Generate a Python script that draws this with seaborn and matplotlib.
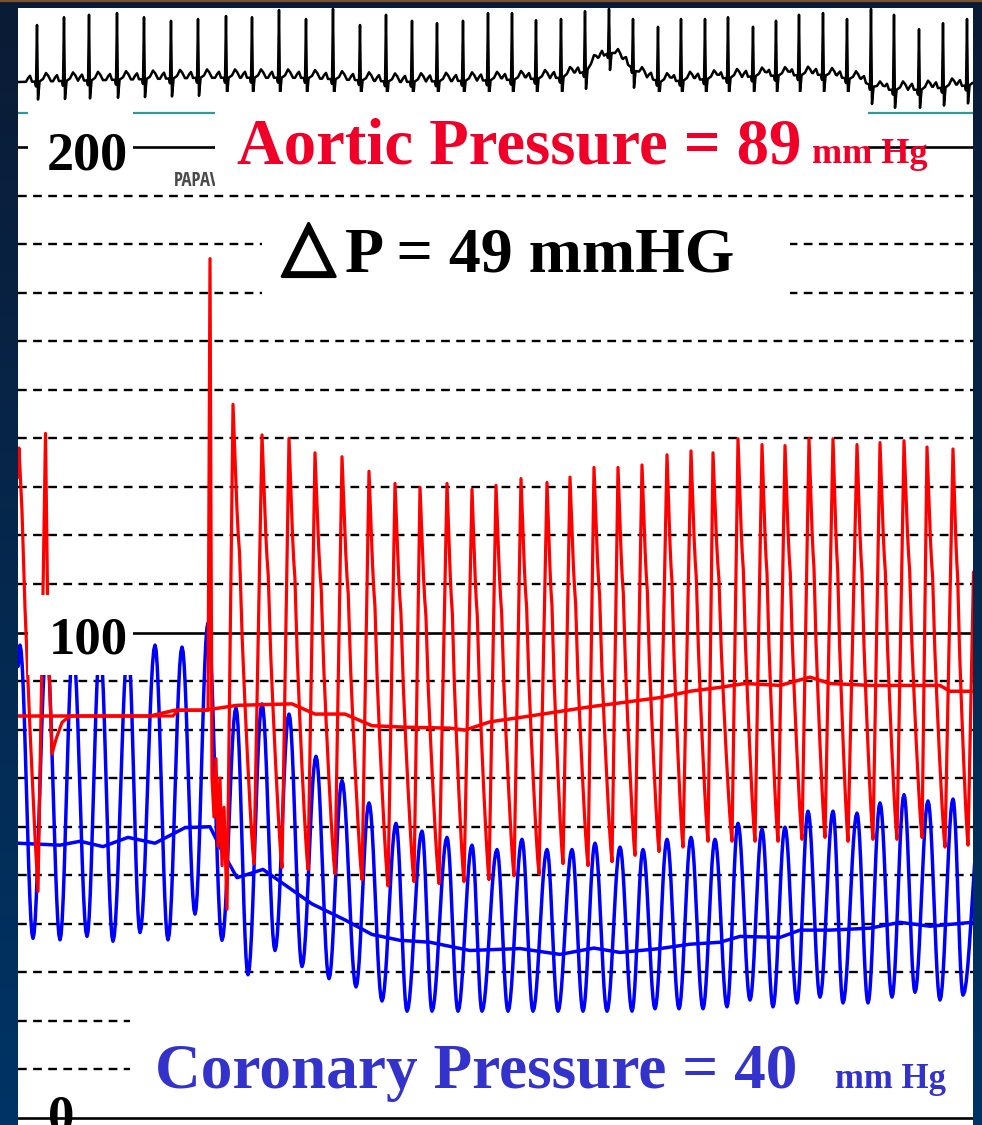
import numpy as np
import pandas as pd
import matplotlib
matplotlib.use("Agg")
import matplotlib.pyplot as plt
import seaborn as sns
from matplotlib.patches import Rectangle
from matplotlib.colors import LinearSegmentedColormap
from matplotlib import patheffects

# ---------------- recorded values ----------------
# time in seconds, pressures in mmHg, ECG in mV

# ECG: R-wave times and R-wave apex levels, plus slow baseline drift
ecg_r_t = [0.38, 0.92, 1.42, 1.98, 2.52, 3.06, 3.60, 4.16, 4.68, 5.22, 5.76, 6.30,
           6.84, 7.36, 7.88, 8.38, 8.90, 9.40, 9.88, 10.36, 10.86, 11.34, 11.82,
           12.30, 12.80, 13.26, 13.74, 14.20, 14.70, 15.16, 15.62, 16.10, 16.58,
           17.06, 17.52, 18.02, 18.50, 18.98]
ecg_r_mv = [0.95, 1.08, 1.12, 1.15, 1.08, 1.02, 1.05, 1.10, 1.08, 1.20, 1.05, 1.22,
            0.95, 1.12, 1.02, 0.98, 1.02, 1.15, 1.15, 1.03, 1.05, 1.18, 1.22,
            1.05, 0.92, 1.05, 1.05, 1.08, 0.92, 1.02, 1.12, 1.15, 1.05,
            1.22, 1.12, 0.88, 0.98, 1.05]
ecg_base_t = [0.0, 1.64, 3.64, 5.64, 7.64, 9.64, 10.84, 11.34, 11.64, 11.84, 12.14,
              12.44, 12.84, 14.84, 16.04, 16.84, 17.24, 18.04, 19.08]
ecg_base_mv = [0.0, 0.03, 0.07, 0.07, 0.0, 0.03, 0.07, 0.17, 0.40, 0.50, 0.33,
               0.12, 0.0, 0.10, 0.12, 0.03, -0.13, -0.13, -0.05]

# Aortic pressure: irregular opening section (damped trace, flush artefact)
aortic_lead_t = [0.00, 0.02, 0.08, 0.14, 0.24, 0.34, 0.40, 0.48, 0.55, 0.60, 0.68,
                 0.76, 0.88, 1.04, 3.10, 3.20, 3.80, 3.84, 3.88, 3.92, 3.96, 4.00,
                 4.04, 4.08, 4.12]
aortic_lead_v = [132, 138, 125, 105, 80, 58, 46.7, 95, 141, 100, 75,
                 78, 81.5, 82.8, 82.8, 84, 84, 177, 70, 62, 74, 56,
                 70, 52, 64]
# Aortic pressure: beat-by-beat diastolic troughs and systolic peaks
aortic_trough_t = [4.18, 4.72, 5.28, 5.80, 6.34, 6.88, 7.40, 7.92, 8.42, 8.92, 9.42,
                   9.92, 10.42, 10.90, 11.40, 11.88, 12.34, 12.82, 13.30, 13.80,
                   14.28, 14.74, 15.20, 15.68, 16.14, 16.60, 17.10, 17.58, 18.08,
                   18.54, 19.00]
aortic_trough_v = [43, 52.4, 51.6, 51.2, 50.3, 49.1, 47.8, 48.7, 48.3, 48.7, 49.1,
                   49.9, 50.3, 52.4, 52.0, 52.8, 54.1, 54.9, 55.8, 57.0,
                   57.0, 57.0, 57.0, 57.4, 57.8, 57.0, 57.4, 57.4, 57.8,
                   55.8, 56.2]
aortic_peak_t = [4.30, 4.88, 5.42, 5.94, 6.48, 7.02, 7.54, 8.04, 8.58, 9.08, 9.56,
                 10.06, 10.58, 11.04, 11.52, 12.00, 12.48, 12.98, 13.46, 13.90,
                 14.40, 14.88, 15.34, 15.82, 16.30, 16.78, 17.24, 17.72, 18.18,
                 18.70, 19.16]
aortic_peak_v = [147, 140.7, 140, 137, 136.2, 133.2, 130.7, 129.9, 130.7, 129.5, 130.3,
                 131.7, 130.9, 132, 134, 134, 134.5, 136.6, 137.4, 137,
                 139.9, 138.7, 138.5, 139.9, 139.9, 138.7, 139.1, 139.5, 138.2,
                 137.8, 138]
# Aortic running mean
aortic_mean_t = [0.00, 2.64, 3.14, 3.74, 4.38, 5.48, 5.94, 6.54, 7.08, 7.74, 8.64,
                 8.94, 9.44, 10.24, 11.44, 12.04, 12.84, 13.44, 14.04, 14.54,
                 15.24, 15.84, 16.24, 17.04, 18.44, 18.64, 19.08]
aortic_mean_v = [82.8, 82.8, 84, 84, 85, 85.3, 83.2, 83.2, 80.8, 80.5, 80.3,
                 79.9, 81.6, 82.8, 84.7, 85.5, 86.6, 87.9, 88.7, 89.5,
                 89.1, 90.8, 89.5, 89.1, 89.1, 87.9, 87.9]

# Coronary (distal) pressure: peaks and troughs of each beat
coronary_lead_t = [0.0]
coronary_lead_v = [93.0]
coronary_peak_t = [0.04, 0.57, 1.10, 1.64, 2.20, 2.74, 3.28, 3.80, 4.36, 4.88, 5.42,
                   5.96, 6.48, 7.02, 7.56, 8.08, 8.58, 9.08, 9.58, 10.08, 10.58,
                   11.08, 11.54, 12.04, 12.50, 12.98, 13.46, 13.94, 14.40, 14.88,
                   15.34, 15.80, 16.30, 16.78, 17.24, 17.72, 18.20, 18.70, 19.28]
coronary_peak_v = [97.4, 97, 97, 97, 97, 97.4, 97, 102, 84.5, 85.3, 83.2,
                   74.5, 69.5, 64.9, 60.7, 59.1, 57.8, 56.2, 55.3, 57.4, 55.3,
                   55.3, 56.6, 55.8, 55.3, 57.4, 57.8, 57.4, 60.7, 59.5,
                   59.9, 63.2, 63.2, 62.8, 64.9, 66.6, 65.3, 65.7, 66]
coronary_trough_t = [0.30, 0.84, 1.38, 1.90, 2.44, 3.00, 3.54, 4.08, 4.60, 5.14, 5.68,
                     6.22, 6.76, 7.28, 7.78, 8.28, 8.80, 9.28, 9.80, 10.30, 10.80,
                     11.30, 11.78, 12.28, 12.74, 13.22, 13.70, 14.18, 14.64, 15.10,
                     15.58, 16.04, 16.50, 17.00, 17.48, 17.94, 18.44, 18.90]
coronary_trough_v = [37, 36.7, 37.4, 36.4, 38.2, 36.7, 42, 36.6, 29.5, 34.5, 31.2,
                     28.7, 27, 24.1, 22, 22, 22, 22, 22, 22, 22,
                     22, 22, 22, 22.5, 22.5, 22.5, 22.9, 24.3, 22.9,
                     23.7, 24.9, 23.7, 23.7, 24.9, 25.9, 24.3, 25.3]
# Coronary running mean
coronary_mean_t = [0.00, 0.84, 1.24, 1.70, 2.20, 2.74, 3.34, 3.84, 4.08, 4.38, 4.90,
                   5.88, 6.54, 7.08, 7.64, 8.24, 9.04, 10.04, 10.84, 11.52, 12.04,
                   12.84, 13.44, 14.04, 14.44, 15.24, 15.64, 16.24, 17.04, 17.64,
                   18.24, 19.08]
coronary_mean_v = [56.6, 56.2, 57, 55.9, 57.8, 56.6, 59.8, 60, 55, 49.5, 51.2,
                   44.1, 40.8, 37.8, 36.6, 36.2, 34.5, 34.9, 33.7, 35, 34.1,
                   34.9, 35.8, 36.2, 37.4, 37.2, 38.7, 38.7, 39.1, 40.3,
                   39.5, 40.3]

scale_solid = [0, 100, 200]
scale_dashed = [v for v in range(10, 200, 10) if v % 100]

# ---------------- waveform assembly ----------------
def assemble(t_pts, v_pts, kinds, n=14):
    ts, vs = [], []
    for i in range(len(t_pts) - 1):
        a, b = v_pts[i], v_pts[i + 1]
        ta, tb = t_pts[i], t_pts[i + 1]
        k = kinds[i]
        if k == "line":
            s = np.array([0.0])
            f = s
        else:
            s = np.linspace(0, 1, n, endpoint=False)
            if k == "cos":
                f = (1 - np.cos(np.pi * s)) / 2
            elif k == "rise":
                f = s
            else:  # systolic run-off with dicrotic notch
                f = 1 - (1 - s) ** 1.25
        v = a + (b - a) * f
        if k == "decay":
            v = v + 0.05 * (a - b) * np.exp(-((s - 0.32) / 0.07) ** 2)
        ts.extend(ta + (tb - ta) * s)
        vs.extend(v)
    ts.append(t_pts[-1])
    vs.append(v_pts[-1])
    return np.array(ts), np.array(vs)

# coronary: lead -> peak -> trough -> peak ...
c_t = list(coronary_lead_t)
c_v = list(coronary_lead_v)
for i in range(len(coronary_trough_t)):
    c_t += [coronary_peak_t[i], coronary_trough_t[i]]
    c_v += [coronary_peak_v[i], coronary_trough_v[i]]
c_t.append(coronary_peak_t[-1])
c_v.append(coronary_peak_v[-1])
cor_t, cor_v = assemble(c_t, c_v, ["cos"] * (len(c_t) - 1), n=12)

# aortic: irregular lead-in, then trough -> peak -> trough ...
a_t = list(aortic_lead_t)
a_v = list(aortic_lead_v)
kinds = ["line"] * len(aortic_lead_t)
for i in range(len(aortic_trough_t)):
    a_t += [aortic_trough_t[i], aortic_peak_t[i]]
    a_v += [aortic_trough_v[i], aortic_peak_v[i]]
    kinds += ["rise", "decay"]
kinds = kinds[:len(a_t) - 1]
ao_t, ao_v = assemble(a_t, a_v, kinds, n=16)

# ECG: drifting baseline with a P-QRS-T complex on each R wave
tmpl_dt = [-0.22, -0.18, -0.14, -0.10, -0.04, -0.02, 0.0, 0.02, 0.05, 0.12, 0.18, 0.22, 0.28]
tmpl_shape = [0.0, 0.06, 0.10, 0.0, 0.0, -0.08, 1.0, -0.30, 0.0, 0.04, 0.14, 0.10, 0.0]
ecg_t = np.arange(0.0, 19.1, 0.004)
ecg_v = np.interp(ecg_t, ecg_base_t, ecg_base_mv)
for tr, amp in zip(ecg_r_t, ecg_r_mv):
    r_rel = amp - np.interp(tr, ecg_base_t, ecg_base_mv)
    shape = np.array(tmpl_shape)
    shape[6] = r_rel
    ecg_v = ecg_v + np.interp(ecg_t - tr, tmpl_dt, shape, left=0.0, right=0.0)

# ---------------- figure ----------------
sns.set_theme(style="white")
plt.rcParams["font.family"] = ["Liberation Serif", "DejaVu Serif"]

W, H, DPI = 982, 1125, 100
fig = plt.figure(figsize=(W / DPI, H / DPI), dpi=DPI)


def fx(x):
    return x / W


def fy(y):
    return 1 - y / H


PL, PR, PT, PB = 18, 973, 8, 1125   # plot panel edges (pixels)

# dark slide frame with white panel
ax_bg = fig.add_axes([0, 0, 1, 1], zorder=0)
frame = LinearSegmentedColormap.from_list("frame", ["#0b1b35", "#003466"])
ax_bg.imshow(np.linspace(0, 1, 256).reshape(-1, 1), aspect="auto", cmap=frame,
             extent=[0, 1, 0, 1], origin="upper")
ax_bg.add_patch(Rectangle((fx(PL), fy(PB)), (PR - PL) / W, (PB - PT) / H,
                          facecolor="white", edgecolor="none"))
ax_bg.axhline(1 - 1.0 / H, color="#7a5232", lw=1.6)
ax_bg.set_xlim(0, 1)
ax_bg.set_ylim(0, 1)
ax_bg.set_axis_off()

T_END = (PR - PL) / 50.0

# ECG channel strip
ax_ecg = fig.add_axes([fx(PL), fy(118), (PR - PL) / W, 110 / H], zorder=1)
ax_ecg.patch.set_alpha(0)
sns.lineplot(x=ecg_t, y=ecg_v, ax=ax_ecg, color="black", lw=1.8, sort=False,
             estimator=None)
ax_ecg.axhline(-0.517, color="#2f9a9a", lw=1.6)
ax_ecg.set_xlim(0, T_END)
ax_ecg.set_ylim(-0.6, 1.2333)
ax_ecg.set_axis_off()

# pressure channels
ax = fig.add_axes([fx(PL), fy(PB), (PR - PL) / W, (PB - PT) / H], zorder=2)
ax.patch.set_alpha(0)
px_per_mmhg = (1118 - 147) / 200.0
ylim = ((1118 - PB) / px_per_mmhg, (1118 - PT) / px_per_mmhg)

for v in scale_dashed:
    ax.axhline(v, color="black", lw=1.7, ls=(0, (3.7, 2.7)), zorder=1)
for v in scale_solid:
    ax.axhline(v, color="black", lw=1.9, zorder=1)

sns.lineplot(x=coronary_mean_t, y=coronary_mean_v, ax=ax, color="#0000ff", lw=2.5,
             sort=False, estimator=None, zorder=2)
sns.lineplot(x=cor_t, y=cor_v, ax=ax, color="#0000ff", lw=2.5, sort=False,
             estimator=None, zorder=2)
sns.lineplot(x=aortic_mean_t, y=aortic_mean_v, ax=ax, color="#ff0000", lw=2.5,
             sort=False, estimator=None, zorder=3)
sns.lineplot(x=ao_t, y=ao_v, ax=ax, color="#ff0000", lw=2.3, sort=False,
             estimator=None, zorder=3)
ax.set_xlim(0, T_END)
ax.set_ylim(*ylim)
ax.set_axis_off()


def white_box(x0, y0, x1, y1):
    ax.add_patch(Rectangle((fx(x0), fy(y1)), (x1 - x0) / W, (y1 - y0) / H,
                           transform=fig.transFigure, facecolor="white",
                           edgecolor="none", zorder=5, clip_on=False))


white_box(28, 106, 133, 190)     # "200"
white_box(215, 92, 868, 189)     # aortic caption
white_box(262, 200, 790, 300)    # pressure gradient caption
white_box(28, 595, 133, 675)     # "100"
white_box(130, 1017, PR, 1112)   # coronary caption

# drug marker on the event channel, partly under the caption panel
ax.text(fx(174), fy(186), "PAPAV", fontsize=13.5, color="#4a4a4a",
        fontweight="light",
        family=["Liberation Sans Narrow", "Open Sans Condensed", "DejaVu Sans"],
        ha="left", va="baseline", zorder=4, transform=fig.transFigure,
        clip_on=False)


def label(x, y, s, size, color="black", **kw):
    fig.text(fx(x), fy(y), s, fontsize=size, color=color, fontweight="bold",
             ha="left", va="baseline", zorder=6, **kw)


label(47, 170, "200", 39)
label(49, 653, "100", 38)
label(48, 1132, "0", 38)

label(237, 163, "Aortic Pressure = 89", 46.5, color="#f00028")
label(812, 163, "mm Hg", 26, color="#f00028")

fig.text(fx(282), fy(268), "\u25b3", fontsize=50, color="black",
         family=["DejaVu Sans"], ha="left", va="baseline", zorder=6,
         path_effects=[patheffects.withStroke(linewidth=2.2, foreground="black")])
label(345, 272, "P = 49 mmHG", 46)

label(155, 1088, "Coronary Pressure = 40", 45.5, color="#3333cc")
label(835, 1088, "mm Hg", 25, color="#3333cc")

fig.savefig("out.png", dpi=DPI)
